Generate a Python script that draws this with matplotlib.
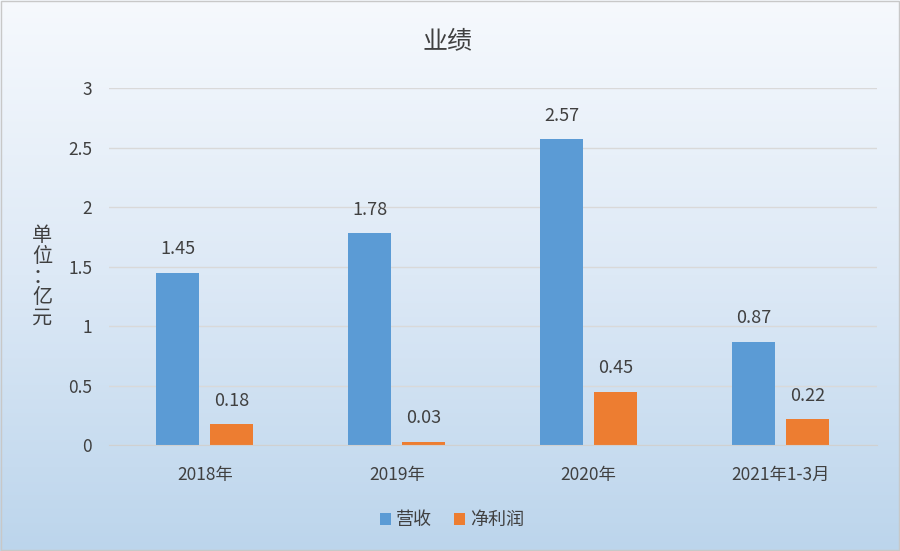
import numpy as np
import matplotlib.pyplot as plt
from matplotlib.colors import LinearSegmentedColormap

plt.rcParams['font.family'] = ['Noto Sans CJK SC', 'DejaVu Sans']

# 数据
categories = ['2018年', '2019年', '2020年', '2021年1-3月']
revenue = [1.45, 1.78, 2.57, 0.87]
net_profit = [0.18, 0.03, 0.45, 0.22]
series_names = ['营收', '净利润']

BLUE = '#5B9BD5'
ORANGE = '#ED7D31'
TEXT = '#404040'

fig = plt.figure(figsize=(9, 5.51), dpi=100)

# 渐变背景
bg = fig.add_axes([0, 0, 1, 1], zorder=-10)
grad = np.linspace(0, 1, 256).reshape(-1, 1)
cmap = LinearSegmentedColormap.from_list('bg', ['#F6F9FD', '#DDE9F6', '#BCD5EC'])
bg.imshow(grad, aspect='auto', cmap=cmap, extent=[0, 1, 0, 1], origin='upper')
bg.set_xlim(0, 1)
bg.set_ylim(0, 1)
bg.axis('off')
bg.add_patch(plt.Rectangle((0.001, 0.001), 0.998, 0.997, fill=False,
                           edgecolor='#C8C8C8', lw=1.0))

ax = fig.add_axes([0.121, 0.192, 0.853, 0.648])
ax.patch.set_alpha(0)

x = np.arange(len(categories))
w = 0.224
off = 0.14
b1 = ax.bar(x - off, revenue, w, color=BLUE, label=series_names[0], zorder=3)
b2 = ax.bar(x + off, net_profit, w, color=ORANGE, label=series_names[1], zorder=3)

for bars, vals in ((b1, revenue), (b2, net_profit)):
    for b, v in zip(bars, vals):
        ax.text(b.get_x() + b.get_width() / 2, v + 0.12, f'{v:.2f}',
                ha='center', va='bottom', fontsize=13, color=TEXT)

ax.set_xlim(-0.5, len(categories) - 0.5)
ax.set_ylim(0, 3)
ax.set_yticks(np.arange(0, 3.01, 0.5))
ax.set_yticklabels(['0', '0.5', '1', '1.5', '2', '2.5', '3'])
ax.set_xticks(x)
ax.set_xticklabels(categories)
ax.tick_params(axis='both', length=0, labelsize=12.5, labelcolor=TEXT)
ax.tick_params(axis='y', pad=12)
ax.tick_params(axis='x', pad=15)
ax.grid(axis='y', color='#D9D9D9', lw=1, zorder=0)
for s in ['top', 'right', 'left']:
    ax.spines[s].set_visible(False)
ax.spines['bottom'].set_color('#D0D0D0')
ax.spines['bottom'].set_zorder(4)

fig.text(0.497, 0.924, '业绩', ha='center', va='center', fontsize=18, color=TEXT)
fig.text(0.047, 0.497, '单\n位\n：\n亿\n元', ha='center', va='center',
         fontsize=14.5, color=TEXT, linespacing=0.98)

ax.legend(loc='upper center', bbox_to_anchor=(0.447, -0.14), ncol=2, frameon=False,
          fontsize=13, handlelength=0.6, handleheight=0.6, handletextpad=0.3,
          columnspacing=1.2, labelcolor=TEXT)

fig.savefig('out.png', dpi=100)
